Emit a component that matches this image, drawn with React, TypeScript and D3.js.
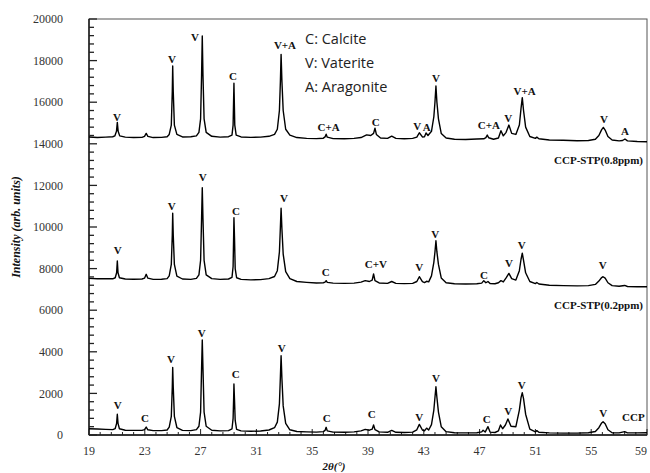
import React from "react";
import * as d3 from "d3";

const W = 650;
const H = 473;

// x ticks (2θ) and y ticks (intensity)
const xTicks = [19, 23, 27, 31, 35, 39, 43, 47, 51, 55, 59];
const yTicks = [0, 2000, 4000, 6000, 8000, 10000, 12000, 14000, 16000, 18000, 20000];

// CCP-STP(0.8ppm) trace [2θ, intensity]
const seriesTop: [number, number][] = [
  [19.0,14330],[19.6,14300],[20.2,14320],[20.7,14340],
  [20.85,14380],[20.97,14600],[21.03,15030],[21.09,14600],[21.2,14380],
  [21.6,14320],[22.2,14300],[22.8,14310],
  [22.98,14360],[23.1,14500],[23.22,14360],
  [23.6,14300],[24.2,14310],[24.6,14340],
  [24.75,14450],[24.9,14900],[24.97,16500],[25.0,17740],[25.04,16500],[25.12,14900],[25.3,14450],
  [25.7,14330],[26.3,14340],[26.7,14380],
  [26.88,14550],[27.0,15200],[27.07,17300],[27.12,19180],[27.17,17300],[27.25,15200],[27.4,14550],
  [27.8,14360],[28.4,14320],[29.0,14340],
  [29.25,14420],[29.33,14900],[29.39,16910],[29.45,14900],[29.55,14420],
  [29.9,14330],[30.6,14310],[31.3,14320],[31.9,14360],[32.3,14450],
  [32.5,14700],[32.65,15600],[32.72,17000],[32.77,18300],[32.83,17000],[32.92,15600],[33.1,14700],[33.4,14420],
  [33.9,14300],[34.6,14260],[35.3,14250],[35.8,14270],
  [35.92,14330],[36.0,14460],[36.08,14320],
  [36.5,14250],[37.3,14240],[38.0,14260],[38.5,14300],
  [38.9,14430],[39.2,14400],[39.4,14500],[39.5,14750],[39.6,14450],[39.9,14280],
  [40.4,14260],[40.7,14370],[41.0,14260],
  [41.6,14240],[42.2,14260],[42.5,14320],
  [42.68,14530],[42.9,14330],[43.05,14340],[43.16,14520],[43.3,14400],
  [43.55,14600],[43.72,15300],[43.8,16000],[43.87,16780],[43.94,16000],[44.05,15200],[44.25,14500],[44.6,14280],
  [45.2,14220],[46.0,14210],[46.8,14230],[47.3,14240],
  [47.45,14300],[47.55,14420],[47.65,14290],
  [48.0,14220],[48.35,14280],
  [48.53,14630],[48.7,14380],
  [48.9,14550],[49.1,14900],[49.3,14500],
  [49.6,14450],[49.85,14900],[49.97,15700],[50.06,16220],[50.15,15600],[50.3,14800],[50.6,14350],
  [51.0,14260],[51.1,14320],[51.25,14240],
  [52.0,14180],[53.0,14170],[54.0,14150],[54.8,14160],[55.3,14220],
  [55.55,14400],[55.75,14680],[55.87,14790],[56.0,14660],[56.2,14350],[56.5,14180],
  [57.0,14140],[57.25,14160],[57.42,14230],[57.6,14140],
  [58.3,14110],[59.0,14100],
];

// CCP-STP(0.2ppm) trace
const seriesMid: [number, number][] = [
  [19.0,7530],[19.6,7510],[20.2,7520],[20.7,7510],
  [20.88,7560],[20.98,7800],[21.03,8365],[21.08,7800],[21.18,7560],
  [21.6,7500],[22.2,7490],[22.8,7500],
  [22.98,7540],[23.1,7725],[23.22,7540],
  [23.6,7480],[24.2,7490],[24.6,7520],
  [24.75,7650],[24.9,8200],[24.97,9600],[25.0,10660],[25.04,9600],[25.12,8200],[25.3,7640],
  [25.7,7500],[26.3,7480],[26.7,7530],
  [26.88,7700],[27.0,8400],[27.07,10400],[27.12,11890],[27.17,10400],[27.25,8400],[27.4,7700],
  [27.8,7520],[28.4,7480],[29.0,7500],
  [29.25,7580],[29.33,8100],[29.37,9600],[29.39,10450],[29.43,9500],[29.48,8000],[29.58,7560],
  [29.9,7480],[30.6,7460],[31.3,7470],[31.9,7520],[32.3,7620],
  [32.5,7900],[32.65,8800],[32.72,10000],[32.77,10900],[32.83,9900],[32.92,8700],[33.1,7850],[33.4,7520],
  [33.9,7380],[34.6,7340],[35.3,7310],[35.8,7320],
  [35.92,7350],[36.0,7420],[36.08,7340],
  [36.5,7300],[37.3,7290],[38.0,7300],[38.5,7350],
  [38.8,7420],[39.1,7380],[39.3,7450],[39.4,7740],[39.5,7420],[39.8,7310],
  [40.4,7290],[40.7,7380],[41.0,7290],
  [41.6,7280],[42.2,7290],[42.5,7380],
  [42.68,7610],[42.9,7370],[43.05,7330],[43.2,7390],[43.35,7360],
  [43.55,7650],[43.72,8300],[43.8,8800],[43.87,9340],[43.94,8800],[44.05,8200],[44.25,7550],[44.6,7320],
  [45.2,7270],[46.0,7260],[46.8,7270],[47.15,7300],
  [47.3,7420],[47.45,7320],[47.6,7380],[47.75,7280],
  [48.1,7270],[48.35,7320],[48.53,7420],[48.7,7360],
  [48.9,7550],[49.1,7770],[49.3,7520],
  [49.6,7450],[49.85,7900],[49.97,8450],[50.06,8740],[50.15,8400],[50.3,7800],[50.6,7380],
  [51.0,7280],[51.1,7330],[51.25,7260],
  [52.0,7200],[53.0,7180],[54.0,7170],[54.8,7180],[55.3,7240],
  [55.55,7400],[55.75,7570],[55.85,7610],[56.0,7540],[56.2,7320],[56.5,7180],
  [57.0,7150],[57.4,7190],[57.6,7140],
  [58.3,7130],[59.0,7130],
];

// CCP trace
const seriesBottom: [number, number][] = [
  [19.0,300],[19.6,290],[20.2,270],[20.7,260],
  [20.88,310],[20.98,560],[21.03,995],[21.08,560],[21.18,300],
  [21.6,230],[22.2,220],[22.8,220],
  [22.98,260],[23.1,380],[23.22,250],
  [23.6,210],[24.2,210],[24.6,240],
  [24.75,380],[24.9,900],[24.97,2300],[25.0,3250],[25.04,2300],[25.12,900],[25.3,360],
  [25.7,220],[26.3,210],[26.7,260],
  [26.88,420],[27.0,1100],[27.07,3200],[27.12,4570],[27.17,3200],[27.25,1100],[27.4,420],
  [27.8,230],[28.4,200],[29.0,210],
  [29.25,290],[29.33,800],[29.37,1800],[29.39,2450],[29.43,1700],[29.48,700],[29.58,270],
  [29.9,200],[30.6,180],[31.3,190],[31.9,240],[32.3,350],
  [32.5,620],[32.65,1500],[32.72,2800],[32.77,3810],[32.83,2700],[32.92,1400],[33.1,560],[33.4,250],
  [33.9,170],[34.6,150],[35.3,140],[35.8,160],
  [35.92,220],[36.0,370],[36.08,200],
  [36.5,140],[37.3,130],[38.0,150],[38.5,200],
  [38.8,270],[39.1,230],[39.3,280],[39.4,480],[39.5,260],[39.8,150],
  [40.4,130],[40.7,220],[41.0,130],
  [41.6,120],[42.2,140],[42.5,250],
  [42.68,510],[42.9,240],[43.05,200],[43.2,330],[43.35,240],
  [43.55,500],[43.72,1200],[43.8,1800],[43.87,2320],[43.94,1800],[44.05,1100],[44.25,400],[44.6,160],
  [45.2,110],[46.0,100],[46.8,110],[47.15,150],
  [47.25,230],[47.4,140],[47.6,400],[47.75,140],
  [48.1,120],[48.35,200],[48.5,480],[48.65,300],
  [48.85,480],[49.03,770],[49.25,420],
  [49.6,400],[49.85,1200],[49.97,1800],[50.06,2030],[50.15,1750],[50.3,1000],[50.6,280],
  [51.0,150],[51.1,210],[51.25,130],
  [52.0,100],[53.0,90],[54.0,90],[54.8,110],[55.3,170],
  [55.55,350],[55.75,580],[55.85,640],[56.0,540],[56.2,250],[56.5,110],
  [57.0,100],[57.4,160],[57.6,100],
  [58.3,100],[59.0,110],
];

// peak annotations [label, 2θ, intensity]
const labelsTop: [string, number, number][] = [
  ["V", 21.01, 15290], ["V", 24.95, 18080], ["V", 26.6, 19150], ["C", 29.32, 17230],
  ["V+A", 33.05, 18720], ["C+A", 36.17, 14820], ["C", 39.55, 15020], ["V", 42.53, 14860],
  ["A", 43.21, 14820], ["V", 43.87, 17150], ["C+A", 47.67, 14900], ["V", 49.06, 15230],
  ["V+A", 50.23, 16510], ["V", 55.92, 15190], ["A", 57.42, 14630],
];
const labelsMid: [string, number, number][] = [
  ["V", 21.06, 8890], ["V", 24.93, 11010], ["V", 27.15, 12390], ["C", 29.54, 10780],
  ["V", 32.98, 11380], ["C", 35.97, 7850], ["C+V", 39.56, 8210], ["V", 42.68, 8060],
  ["V", 43.82, 9650], ["C", 47.32, 7690], ["V", 49.11, 8260], ["V", 50.02, 9140],
  ["V", 55.82, 8170],
];
const labelsBottom: [string, number, number][] = [
  ["V", 21.06, 1440], ["C", 23.01, 800], ["V", 24.88, 3640], ["V", 27.08, 4920],
  ["C", 29.52, 2920], ["V", 32.81, 4170], ["C", 36.04, 800], ["C", 39.27, 1000],
  ["V", 42.68, 850], ["V", 43.87, 2730], ["C", 47.51, 780], ["V", 49.06, 1170],
  ["V", 50.02, 2400], ["V", 55.87, 1040], ["CCP", 58.02, 850],
];

const seriesNames = ["CCP-STP(0.8ppm)", "CCP-STP(0.2ppm)"];
const seriesNameLevels = [13200, 6220];

const legendLines = ["C: Calcite", "V: Vaterite", "A: Aragonite"];

export default function App() {
  const x = d3.scaleLinear().domain([19, 59]).range([89, 647]);
  const y = d3.scaleLinear().domain([0, 20000]).range([435, 19]);
  const line = d3
    .line<[number, number]>()
    .x((d) => x(d[0]))
    .y((d) => y(d[1]))
    .curve(d3.curveLinear);

  const xMinor = d3.range(19, 59.001, 0.8);
  const yMinor = d3.range(0, 20001, 400);
  const serif = "'Liberation Serif', 'DejaVu Serif', serif";
  const allLabels = [...labelsTop, ...labelsMid, ...labelsBottom];

  return (
    <div style={{ position: "absolute", left: 0, top: 0 }}>
      <svg width={W} height={H} style={{ display: "block", background: "#fff" }}>
        {/* frame */}
        <rect x={x(19)} y={y(20000)} width={x(59) - x(19)} height={y(0) - y(20000)} fill="none" stroke="#555" strokeWidth={1} />
        <line x1={x(19)} x2={x(19)} y1={y(20000)} y2={y(0)} stroke="#111" strokeWidth={1.4} />
        <line x1={x(19)} x2={x(59)} y1={y(0)} y2={y(0)} stroke="#111" strokeWidth={1.4} />

        {/* y ticks */}
        {yMinor.map((v) => (
          <line key={"ym" + v} x1={x(19)} x2={x(19) + (v % 2000 === 0 ? 8 : 5)} y1={y(v)} y2={y(v)} stroke="#222" strokeWidth={1.3} />
        ))}
        {yTicks.map((v) => (
          <text key={"yt" + v} x={63} y={y(v)} dy="0.35em" textAnchor="end" fontFamily={serif} fontSize={12} fill="#333">
            {v}
          </text>
        ))}

        {/* x ticks */}
        {xMinor.map((v, i) => (
          <line key={"xm" + i} x1={x(v)} x2={x(v)} y1={y(0)} y2={y(0) - (i % 5 === 0 ? 6 : 3)} stroke="#222" strokeWidth={1} />
        ))}
        {xTicks.map((v) => (
          <text key={"xt" + v} x={Math.min(x(v), 641)} y={455} textAnchor="middle" fontFamily={serif} fontSize={12} fill="#333">
            {v}
          </text>
        ))}

        {/* axis titles */}
        <text
          transform={`translate(20,227) rotate(-90)`}
          textAnchor="middle"
          fontFamily={serif}
          fontSize={12}
          fontWeight="bold"
          fontStyle="italic"
          fill="#111"
        >
          Intensity (arb. units)
        </text>
        <text x={334} y={470} textAnchor="middle" fontFamily={serif} fontSize={11} fontWeight="bold" fontStyle="italic" fill="#111">
          2θ(°)
        </text>

        {/* traces */}
        {[seriesTop, seriesMid, seriesBottom].map((s, i) => (
          <path key={"s" + i} d={line(s) || ""} fill="none" stroke="#000" strokeWidth={1.4} strokeLinejoin="round" />
        ))}

        {/* peak labels */}
        {allLabels.map(([t, a, b], i) => (
          <text key={"l" + i} x={x(a)} y={y(b)} dy="0.35em" textAnchor="middle" fontFamily={serif} fontSize={11} fontWeight="bold" fill="#111">
            {t}
          </text>
        ))}

        {/* series names */}
        {seriesNames.map((n, i) => (
          <text key={"n" + i} x={643} y={y(seriesNameLevels[i])} dy="0.35em" textAnchor="end" fontFamily={serif} fontSize={11} fontWeight="bold" fill="#111">
            {n}
          </text>
        ))}

        {/* legend */}
        {legendLines.map((t, i) => (
          <text key={"lg" + i} x={305} y={39 + i * 24} dy="0.35em" fontFamily="'Open Sans', 'Noto Sans', sans-serif" fontSize={14.5} fill="#222">
            {t}
          </text>
        ))}
      </svg>
    </div>
  );
}
